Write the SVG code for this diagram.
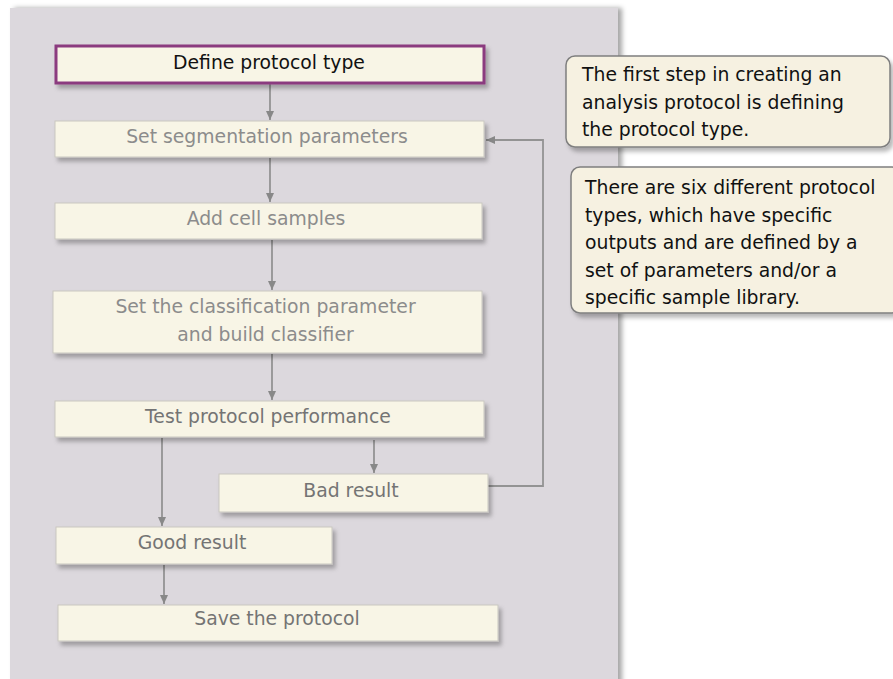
<svg xmlns="http://www.w3.org/2000/svg" width="893" height="679" viewBox="0 0 893 679">
<defs>
<style>
.box{fill:#f8f5e6;stroke:#c9c7c0;stroke-width:1}
.t{font-family:"DejaVu Sans",sans-serif;font-size:18.8px;fill:#8c8c8c;text-anchor:middle}
.d{fill:#747474}
.ct{font-family:"DejaVu Sans",sans-serif;font-size:18.8px;fill:#111}
.c{fill:none;stroke:#939393;stroke-width:1.8}
.call{fill:#f6f1e1;stroke:#7f7f7f;stroke-width:1.5}
</style>
<filter id="sh" x="-5%" y="-20%" width="115%" height="160%">
<feDropShadow dx="3" dy="4" stdDeviation="2" flood-color="#000" flood-opacity="0.28"/>
</filter>
<filter id="psh" x="-5%" y="-5%" width="115%" height="115%">
<feDropShadow dx="4" dy="0" stdDeviation="2.5" flood-color="#000" flood-opacity="0.35"/>
</filter>
<marker id="ah" markerWidth="10" markerHeight="10" refX="9" refY="5" orient="auto" markerUnits="userSpaceOnUse">
<path d="M0,1 L9,5 L0,9 Z" fill="#888888"/>
</marker>
</defs>
<rect x="0" y="0" width="893" height="679" fill="#ffffff"/>
<rect id="panel" x="10" y="8" width="608" height="680" fill="#dcd8dd" filter="url(#psh)"/>

<g id="connectors">
<line class="c" x1="270" y1="84" x2="270" y2="120" marker-end="url(#ah)"/>
<line class="c" x1="270" y1="158" x2="270" y2="202" marker-end="url(#ah)"/>
<line class="c" x1="272" y1="240" x2="272" y2="290" marker-end="url(#ah)"/>
<line class="c" x1="272" y1="354" x2="272" y2="400" marker-end="url(#ah)"/>
<line class="c" x1="162" y1="438" x2="162" y2="526" marker-end="url(#ah)"/>
<line class="c" x1="374" y1="440" x2="374" y2="473" marker-end="url(#ah)"/>
<line class="c" x1="164" y1="565" x2="164" y2="604" marker-end="url(#ah)"/>
<polyline class="c" points="488,486 543,486 543,140 486,140" marker-end="url(#ah)"/>
</g>

<g id="n1">
<rect x="56" y="46" width="428" height="37" fill="#f8f5e6" stroke="#8b3a7f" stroke-width="3" filter="url(#sh)"/>
<text class="t" x="269" y="69" style="fill:#111">Define protocol type</text>
</g>
<g id="n2">
<rect class="box" x="55" y="121" width="429" height="36" filter="url(#sh)"/>
<text class="t" x="267" y="143">Set segmentation parameters</text>
</g>
<g id="n3">
<rect class="box" x="55" y="203" width="427" height="36" filter="url(#sh)"/>
<text class="t" x="266" y="225">Add cell samples</text>
</g>
<g id="n4">
<rect class="box" x="53" y="291" width="429" height="62" filter="url(#sh)"/>
<text class="t" x="265.5" y="313">Set the classification parameter</text>
<text class="t" x="265.5" y="341">and build classifier</text>
</g>
<g id="n5">
<rect class="box" x="55" y="401" width="429" height="36" filter="url(#sh)"/>
<text class="t d" x="268" y="423">Test protocol performance</text>
</g>
<g id="n6">
<rect class="box" x="219" y="474" width="269" height="38" filter="url(#sh)"/>
<text class="t d" x="351" y="497">Bad result</text>
</g>
<g id="n7">
<rect class="box" x="56" y="527" width="276" height="37" filter="url(#sh)"/>
<text class="t d" x="192" y="549">Good result</text>
</g>
<g id="n8">
<rect class="box" x="58" y="605" width="440" height="36" filter="url(#sh)"/>
<text class="t d" x="277" y="625">Save the protocol</text>
</g>

<g id="callout1">
<rect class="call" x="566" y="56" width="324" height="91" rx="9" filter="url(#sh)"/>
<text class="ct" x="582" y="81">The first step in creating an</text>
<text class="ct" x="582" y="108.5">analysis protocol is defining</text>
<text class="ct" x="582" y="136">the protocol type.</text>
</g>
<g id="callout2">
<rect class="call" x="571" y="167" width="330" height="146" rx="9" filter="url(#sh)"/>
<text class="ct" x="585" y="194">There are six different protocol</text>
<text class="ct" x="585" y="221.5">types, which have specific</text>
<text class="ct" x="585" y="249">outputs and are defined by a</text>
<text class="ct" x="585" y="276.5">set of parameters and/or a</text>
<text class="ct" x="585" y="304">specific sample library.</text>
</g>
</svg>
